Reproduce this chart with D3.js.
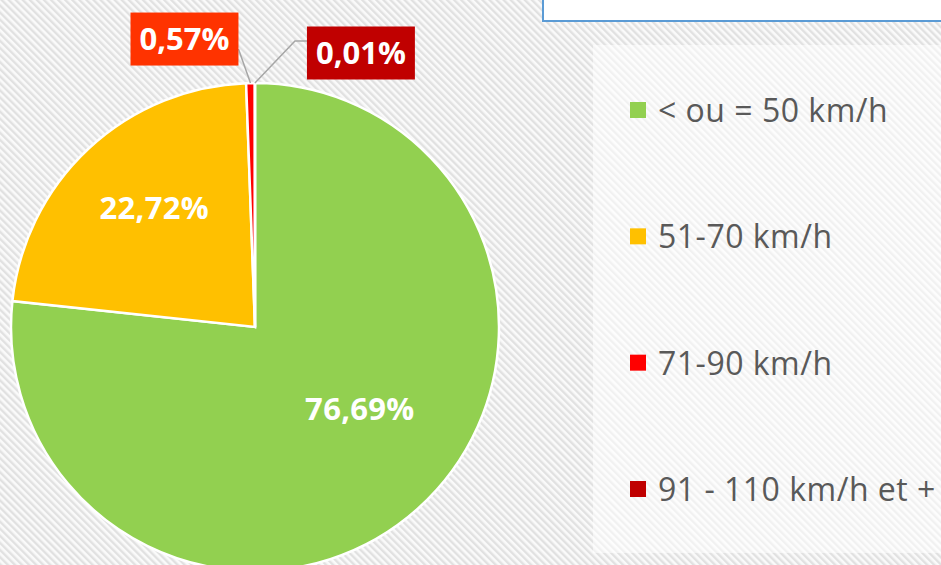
<!DOCTYPE html>
<html><head><meta charset="utf-8">
<script src="https://cdn.jsdelivr.net/npm/d3@7"></script>
<style>
html,body{margin:0;padding:0;background:#fff;}
svg{display:block;}
</style></head>
<body>
<script>
const categories = ["< ou = 50 km/h", "51-70 km/h", "71-90 km/h", "91 - 110 km/h et +"];
const values = [76.69, 22.72, 0.57, 0.01];
const colors = ["#92d050", "#ffc000", "#ff0000", "#c00000"];
const labelBoxColors = [null, null, "#ff3300", "#c00000"];

const W = 941, H = 565;
const cx = 255, cy = 327, R = 244;
const FONT = "'Open Sans', Lato, sans-serif";

const svg = d3.select("body").append("svg").attr("width", W).attr("height", H);
const defs = svg.append("defs");
const pat = defs.append("pattern").attr("id", "hatch").attr("patternUnits", "userSpaceOnUse")
  .attr("width", 5).attr("height", 5).attr("patternTransform", "rotate(-45)");
pat.append("rect").attr("width", 5).attr("height", 5).attr("fill", "#fafafa");
pat.append("rect").attr("width", 2.4).attr("height", 5).attr("fill", "#e1e1e1");

svg.append("rect").attr("width", W).attr("height", H).attr("fill", "url(#hatch)");

// legend panel (lighter)
svg.append("rect").attr("x", 593).attr("y", 45).attr("width", 360).attr("height", 508)
  .attr("fill", "#fff").attr("opacity", 0.55);

// title box at top
svg.append("rect").attr("x", 543).attr("y", -10).attr("width", 420).attr("height", 31)
  .attr("fill", "#fff").attr("stroke", "#5b9bd5").attr("stroke-width", 2);

const fmt = v => d3.format(".2f")(v).replace(".", ",") + "%";

const pie = d3.pie().sort(null).value(d => d)(values);
const arc = d3.arc().innerRadius(0).outerRadius(R);
const g = svg.append("g").attr("transform", `translate(${cx},${cy})`);

g.selectAll("path.slice").data(pie).join("path").attr("class", "slice")
  .attr("d", arc).attr("fill", (d, i) => colors[i])
  .attr("stroke", "#fff").attr("stroke-width", 2.5).attr("stroke-linejoin", "miter");

// big labels inside
const labelArc = d3.arc().innerRadius(R * 0.6).outerRadius(R * 0.6);
const nudges = [[7, -27], [-1, -12]];
const fs = 31;
pie.forEach((d, i) => {
  if (labelBoxColors[i]) return;
  const [x, y] = labelArc.centroid(d);
  g.append("text").attr("x", x + nudges[i][0]).attr("y", y + nudges[i][1] + fs * 0.355)
    .attr("text-anchor", "middle").attr("font-family", FONT).attr("font-weight", 700)
    .attr("font-size", fs).attr("fill", "#fff").attr("letter-spacing", 0.3).text(fmt(values[i]));
});

// small labels in boxes with leader lines
const outerArc = d3.arc().innerRadius(R).outerRadius(R);
const boxOffsets = {2: [-66, -44], 3: [106, -30]};
pie.forEach((d, i) => {
  if (!labelBoxColors[i]) return;
  const [ax, ay] = outerArc.centroid(d);
  const bx = ax + boxOffsets[i][0], by = ay + boxOffsets[i][1];
  const t = g.append("text").attr("x", bx).attr("y", by + fs * 0.355)
    .attr("text-anchor", "middle").attr("font-family", FONT).attr("font-weight", 700)
    .attr("font-size", fs).attr("fill", "#fff").text(fmt(values[i]));
  const tw = t.node().getComputedTextLength();
  const bw = tw + 18, bh = 53;
  const left = bx - bw / 2, right = bx + bw / 2;
  let pts;
  if (i === 2) pts = [[ax, ay], [right, by + 10]];
  else pts = [[ax, ay], [left - 12, by - 12], [left, by - 12]];
  g.insert("path", "text").attr("d", d3.line()(pts)).attr("fill", "none")
    .attr("stroke", "#a6a6a6").attr("stroke-width", 1.5);
  g.insert("rect", "text").attr("x", left).attr("y", by - bh / 2).attr("width", bw).attr("height", bh)
    .attr("fill", labelBoxColors[i]);
});

// legend
const ly = d3.scalePoint().domain(categories).range([110, 489]);
const lg = svg.append("g");
categories.forEach((c, i) => {
  const y = ly(c);
  lg.append("rect").attr("x", 630).attr("y", y - 8).attr("width", 16).attr("height", 16)
    .attr("fill", colors[i]);
  lg.append("text").attr("x", 658).attr("y", y + 12).attr("font-family", FONT)
    .attr("font-size", 32).attr("letter-spacing", 0.5).attr("fill", "#595959").text(c);
});
</script>
</body></html>
